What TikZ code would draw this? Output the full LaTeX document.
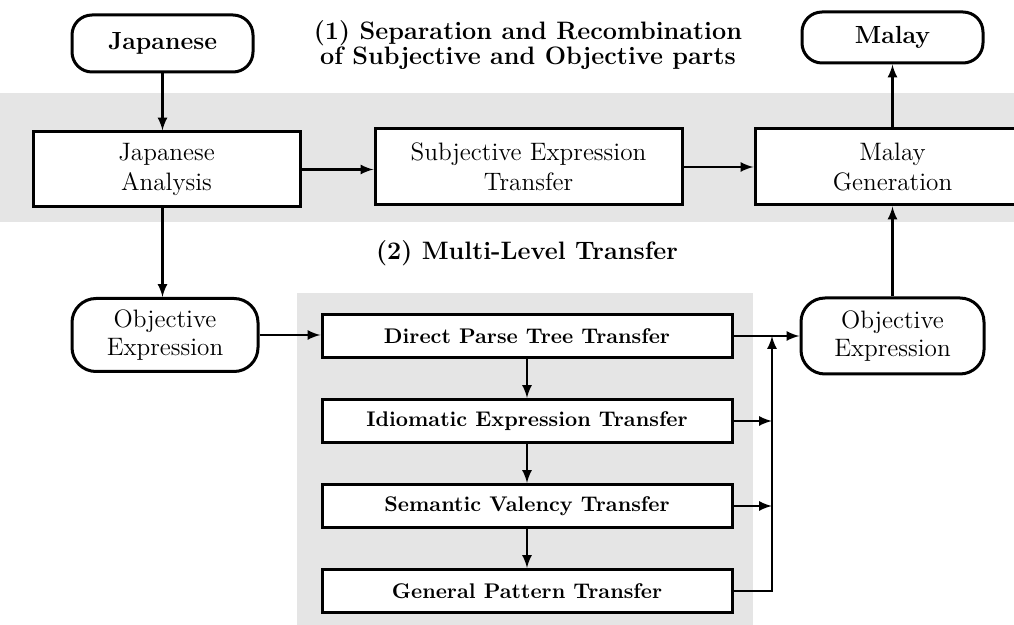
\documentclass[tikz,border=0pt]{standalone}
\usepackage{tikz}
\usetikzlibrary{positioning,arrows}
\tikzset{
	basic/.style   = {draw, line width=1.5pt, fill=white, align=center, inner sep=2pt},
	term/.style    = {basic, rounded corners=12pt, minimum width=90.5pt},
	stage/.style   = {basic, rectangle, font=\fontsize{12.6}{15}\selectfont},
	level/.style   = {basic, rectangle, minimum width=205pt, minimum height=21.5pt,
		font=\bfseries\fontsize{10.6}{12}\selectfont},
	heading/.style = {align=center, font=\bfseries\fontsize{12.6}{12.5}\selectfont},
	stipple/.style = {fill=black!10}
}

\begin{document}
\begin{tikzpicture}[x=0.5pt, y=-0.5pt, line width=1.2pt, >=latex]
	\useasboundingbox (0,0) rectangle (1014,625);

	% stippled backgrounds of the two stages
	\fill[stipple] (0,93) rectangle (1014,222);
	\fill[stipple] (297,293) rectangle (753,625);

	% source and target languages
	\node[term, rounded corners=10pt, minimum height=28.5pt, font=\bfseries\fontsize{12.4}{14}\selectfont] (jp) at (162.5,43.5) {Japanese};
	\node[term, rounded corners=10pt, minimum height=25.5pt, font=\bfseries\fontsize{12.4}{14}\selectfont] (ml) at (892.5,37.5) {Malay};

	% (1) subjective / objective parts
	\node[heading] (sep) at (528,45) {(1) Separation and Recombination\\of Subjective and Objective parts};
	\node[stage, minimum width=133.5pt, minimum height=37.5pt] (ana) at (166.5,169.5) {Japanese\\Analysis};
	\node[stage, minimum width=153.5pt, minimum height=38pt] (sub) at (528.5,167) {Subjective Expression\\Transfer};
	\node[stage, minimum width=137.5pt, minimum height=38pt] (gen) at (892.5,167) {Malay\\Generation};

	% objective expressions
	\node[term, minimum height=36.5pt, minimum width=93pt, font=\fontsize{12.6}{14}\selectfont] (objl) at (165,335) {Objective\\Expression};
	\node[term, minimum height=38pt, minimum width=91.5pt, font=\fontsize{12.6}{14}\selectfont] (objr) at (892.5,336) {Objective\\Expression};

	% (2) multi-level transfer
	\node[heading] (mlt) at (527,253) {(2) Multi-Level Transfer};
	\node[level] (lv1) at (527,336) {Direct Parse Tree Transfer};
	\begin{scope}[node distance=19.5pt]
		\node[level, below = of lv1] (lv2) {Idiomatic Expression Transfer};
		\node[level, below = of lv2] (lv3) {Semantic Valency Transfer};
		\node[level, below = of lv3] (lv4) {General Pattern Transfer};
	\end{scope}
	\coordinate (bus) at (772,336);

	% connectors
	\draw[->] (jp) -- (jp.south |- ana.north);
	\draw[->] (ana) -- (ana -| sub.west);
	\draw[->] (sub) -- (gen);
	\draw[->] (gen.north) -- (ml.south);
	\draw[->] (objr.north) -- (gen.south);
	\draw[->] (jp.south |- ana.south) -- (jp.south |- objl.north);
	\draw[->] (objl) -- (objl -| lv1.west);
	\draw[->] (lv1) -- (lv1 -| objr.west);
	\foreach \from/\to in {1/2,2/3,3/4}
	\draw[->] (lv\from) -- (lv\to);
	\foreach \value in {2,3}
	\draw[->] (lv\value.east) -- (lv\value.east -| bus);
	\draw[->] (lv4.east) -| (bus);
\end{tikzpicture}
\end{document}
